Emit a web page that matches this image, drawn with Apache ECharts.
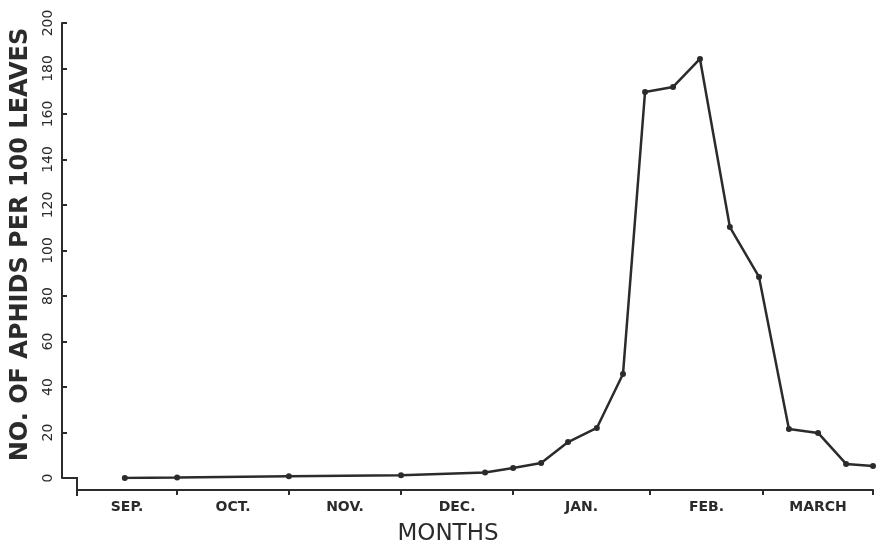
<!DOCTYPE html>
<html>
<head>
<meta charset="utf-8">
<script src="https://cdn.jsdelivr.net/npm/echarts@6.0.0/dist/echarts.min.js"></script>
<style>
  html, body { margin: 0; padding: 0; background: #fff; }
  #chart { width: 881px; height: 547px; }
</style>
</head>
<body>
<div id="chart"></div>
<script>
// sampling dates, in days from the start of the drawn axis
const sampleDays = [12.8, 26.8, 56.7, 86.7, 109.2, 116.7, 124.2, 131.4, 139.1, 146.1,
  152.0, 159.5, 166.7, 174.7, 182.5, 190.5, 198.3, 205.8, 213.0];
// aphids per 100 leaves
const aphidCounts = [0, 0.2, 0.8, 1.2, 2.4, 4.4, 6.6, 15.8, 22, 45.7,
  169.7, 171.9, 184.2, 110.3, 88.4, 21.5, 19.8, 6.2, 5.3];

const monthNames = ["SEP.", "OCT.", "NOV.", "DEC.", "JAN.", "FEB.", "MARCH"];
const monthEdges = [0, 26.8, 56.7, 86.7, 116.7, 153.3, 183.6, 213];
const monthMids = monthNames.map((m, i) => (monthEdges[i] + monthEdges[i + 1]) / 2);

const chart = echarts.init(document.getElementById("chart"));
const ink = "#2b2b2b";

const option = {
  animation: false,
  grid: {
    left: 77,
    right: 8,
    top: 23,
    bottom: 69,
    outerBoundsMode: "none",
  },
  xAxis: {
    type: "value",
    min: 0,
    max: 213,
    offset: 12,
    name: "MONTHS",
    nameLocation: "middle",
    nameGap: 33,
    nameTextStyle: {
      color: ink,
      fontSize: 23,
      fontFamily: "DejaVu Sans",
      padding: [0, 54, 0, 0],
    },
    splitLine: { show: false },
    axisLine: { onZero: false, lineStyle: { color: ink, width: 2 } },
    axisTick: {
      customValues: monthEdges.slice(1),
      length: 5,
      lineStyle: { color: ink, width: 2 },
    },
    axisLabel: {
      customValues: monthMids,
      margin: 10,
      color: ink,
      fontSize: 14,
      fontWeight: "bold",
      fontFamily: "DejaVu Sans",
      formatter: (v) => {
        let best = 0;
        monthMids.forEach((m, i) => {
          if (Math.abs(m - v) < Math.abs(monthMids[best] - v)) best = i;
        });
        return monthNames[best];
      },
    },
  },
  yAxis: {
    type: "value",
    min: 0,
    max: 200,
    interval: 20,
    offset: 15,
    name: "NO. OF APHIDS PER 100 LEAVES",
    nameLocation: "middle",
    nameGap: 29,
    nameTextStyle: {
      color: ink,
      fontSize: 24,
      fontWeight: "bold",
      fontFamily: "DejaVu Sans",
      padding: [0, 0, 0, 12],
    },
    splitLine: { show: false },
    axisLine: { show: true, onZero: false, lineStyle: { color: ink, width: 2 } },
    axisTick: {
      show: true,
      inside: true,
      length: 5,
      lineStyle: { color: ink, width: 2 },
    },
    axisLabel: {
      rotate: 90,
      margin: 7,
      color: ink,
      fontSize: 14,
      fontFamily: "DejaVu Sans",
    },
  },
  series: [
    {
      type: "line",
      data: sampleDays.map((d, i) => [d, aphidCounts[i]]),
      symbol: "circle",
      symbolSize: 6,
      itemStyle: { color: ink },
      lineStyle: { color: ink, width: 2.5 },
    },
  ],
};

chart.setOption(option);

// stepped join between the y axis and the lowered x axis
const origin = chart.convertToPixel({ gridIndex: 0 }, [0, 0]);
chart.setOption({
  graphic: [
    {
      type: "polyline",
      shape: {
        points: [
          [origin[0] - 15, origin[1]],
          [origin[0], origin[1]],
          [origin[0], origin[1] + 18],
        ],
      },
      style: { stroke: ink, lineWidth: 2, fill: null },
    },
  ],
});
</script>
</body>
</html>
